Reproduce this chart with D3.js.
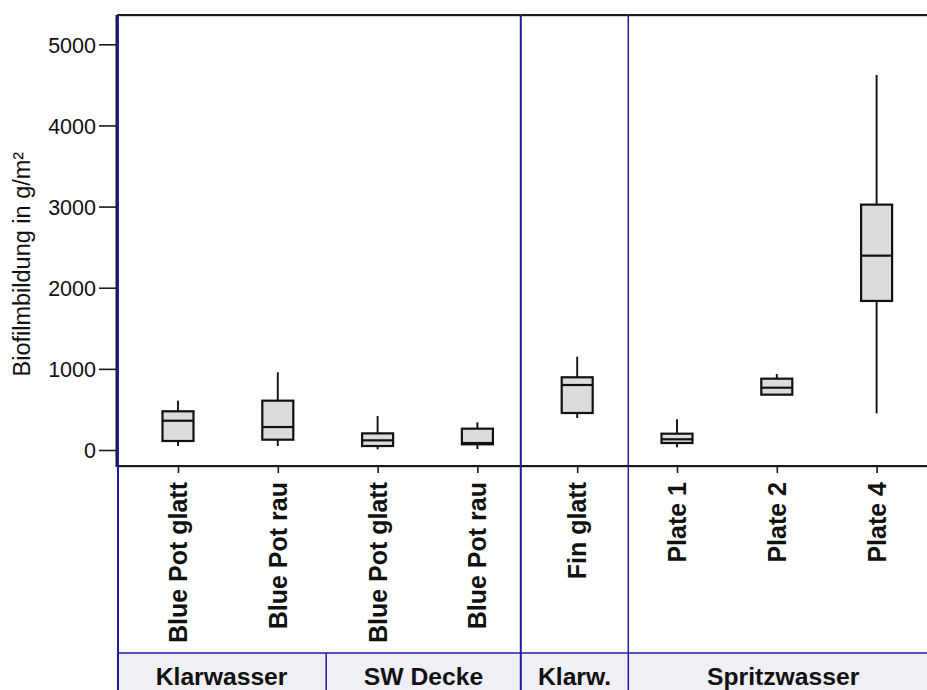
<!DOCTYPE html>
<html>
<head>
<meta charset="utf-8">
<script src="https://cdn.jsdelivr.net/npm/d3@7/dist/d3.min.js"></script>
<style>
  html, body { margin: 0; padding: 0; background: #fff; }
  svg { display: block; }
  text { font-family: "Liberation Sans", Arial, Helvetica, sans-serif; fill: #111; }
</style>
</head>
<body>
<svg id="chart" width="927" height="690"></svg>
<script>
// Sample names along the x axis, in drawing order
const categories = ["Blue Pot glatt", "Blue Pot rau", "Blue Pot glatt", "Blue Pot rau",
                    "Fin glatt", "Plate 1", "Plate 2", "Plate 4"];
// Water-exposure group for each sample
const groupIndex = [0, 0, 1, 1, 2, 3, 3, 3];
const groups = ["Klarwasser", "SW Decke", "Klarw.", "Spritzwasser"];

// Box plot statistics (g/m²)
const whiskerLow  = [49, 49, 8, 12, 394, 33, 682, 452];
const quartile1   = [111, 127, 49, 70, 456, 86, 682, 1837];
const median      = [361, 283, 119, 86, 801, 132, 768, 2395];
const quartile3   = [477, 608, 205, 263, 896, 201, 879, 3024];
const whiskerHigh = [608, 958, 419, 341, 1150, 378, 937, 4622];

const yTicks = [0, 1000, 2000, 3000, 4000, 5000];

const W = 927, H = 690;
const plot = { left: 117, right: 938, top: 15, bottom: 466 };
const rowTop = 653;           // top of the group-name row
const blue = "#1c1ca0";
const boxWidth = 31;

const svg = d3.select("#chart");

const keys = categories.map((c, i) => i);
const x = d3.scalePoint().domain(keys).range([178, 876.6]);
const y = d3.scaleLinear().domain([0, 5000]).range([450, 44.3]);
const step = x.step();

// group-name row background
svg.append("rect")
  .attr("x", plot.left).attr("y", rowTop)
  .attr("width", plot.right - plot.left).attr("height", H - rowTop)
  .attr("fill", "#efeff5");

// frame: top border and bottom axis line
svg.append("line").attr("x1", plot.left).attr("x2", plot.right)
  .attr("y1", plot.top + 1.6).attr("y2", plot.top + 1.6)
  .attr("stroke", "#cfcfcf").attr("stroke-width", 1);
svg.append("line").attr("x1", plot.left).attr("x2", plot.right)
  .attr("y1", plot.top).attr("y2", plot.top)
  .attr("stroke", "#1a1a1a").attr("stroke-width", 2);
svg.append("line").attr("x1", plot.left).attr("x2", plot.right)
  .attr("y1", plot.bottom + 1.6).attr("y2", plot.bottom + 1.6)
  .attr("stroke", "#cfcfcf").attr("stroke-width", 1);
svg.append("line").attr("x1", plot.left).attr("x2", plot.right)
  .attr("y1", plot.bottom).attr("y2", plot.bottom)
  .attr("stroke", "#1a1a1a").attr("stroke-width", 2);
svg.append("line").attr("x1", plot.left - 0.5).attr("x2", plot.left - 0.5)
  .attr("y1", plot.top).attr("y2", plot.bottom + 1)
  .attr("stroke", "#1a1a1a").attr("stroke-width", 2);

// y axis
const yAxis = svg.append("g")
  .attr("transform", `translate(${plot.left},0)`)
  .call(d3.axisLeft(y).tickValues(yTicks).tickSize(18).tickPadding(3).tickFormat(d3.format("d")));
yAxis.select(".domain").remove();
yAxis.selectAll(".tick line").attr("stroke", "#1a1a1a").attr("stroke-width", 1.6);
yAxis.selectAll(".tick text")
  .style("font-size", "21.5px").attr("fill", "#111").attr("dy", "0.36em");

svg.append("text")
  .attr("transform", `translate(29.5,${(y(0) + y(5000)) / 2 + 17}) rotate(-90)`)
  .attr("text-anchor", "middle")
  .style("font-size", "23.5px")
  .text("Biofilmbildung in g/m²");

// x axis ticks
const xAxis = svg.append("g")
  .attr("transform", `translate(0,${plot.bottom})`)
  .call(d3.axisBottom(x).tickSize(7).tickFormat(""));
xAxis.select(".domain").remove();
xAxis.selectAll(".tick line").attr("stroke", "#1a1a1a").attr("stroke-width", 1.6);

// rotated sample names
svg.append("g").selectAll("text")
  .data(keys)
  .join("text")
  .attr("transform", i => `translate(${x(i)},482) rotate(-90)`)
  .attr("text-anchor", "end")
  .attr("dy", "0.36em")
  .style("font-size", "25px").style("font-weight", "bold")
  .text(i => categories[i]);

// group boundaries between neighbouring samples
const edgeNudge = [-1.5, -6.5, 1.2];
const groupEdges = [plot.left];
for (let g = 0; g < groups.length - 1; g++) {
  const last = d3.max(keys.filter(i => groupIndex[i] === g));
  groupEdges.push(x(last) + step / 2 + edgeNudge[g]);
}
groupEdges.push(plot.right);

// group names
svg.append("g").selectAll("text")
  .data(groups)
  .join("text")
  .attr("x", (g, k) => (groupEdges[k] + groupEdges[k + 1]) / 2)
  .attr("y", 685)
  .attr("text-anchor", "middle")
  .style("font-size", "24.7px").style("font-weight", "bold")
  .text(g => g);

// boxes
const boxes = svg.append("g").selectAll("g")
  .data(keys)
  .join("g");

boxes.append("line")
  .attr("x1", i => x(i)).attr("x2", i => x(i))
  .attr("y1", i => y(whiskerHigh[i])).attr("y2", i => y(quartile3[i]))
  .attr("stroke", "#111").attr("stroke-width", 1.9);
boxes.append("line")
  .attr("x1", i => x(i)).attr("x2", i => x(i))
  .attr("y1", i => y(quartile1[i])).attr("y2", i => y(whiskerLow[i]))
  .attr("stroke", "#111").attr("stroke-width", 1.9);
boxes.append("rect")
  .attr("x", i => x(i) - boxWidth / 2)
  .attr("width", boxWidth)
  .attr("y", i => y(quartile3[i]))
  .attr("height", i => y(quartile1[i]) - y(quartile3[i]))
  .attr("fill", "#dcdcdc").attr("stroke", "#111").attr("stroke-width", 2.2);
boxes.append("line")
  .attr("x1", i => x(i) - boxWidth / 2).attr("x2", i => x(i) + boxWidth / 2)
  .attr("y1", i => y(median[i])).attr("y2", i => y(median[i]))
  .attr("stroke", "#111").attr("stroke-width", 2.2);

// blue group separators
const sep = svg.append("g").attr("stroke", blue);
sep.append("line").attr("x1", plot.left + 1).attr("x2", plot.left + 1)
  .attr("y1", plot.top - 1).attr("y2", H).attr("stroke-width", 2);
groupEdges.slice(1, -1).forEach((ex, k) => {
  // the boundary inside each water type only spans the group-name row
  const full = k !== 0;
  sep.append("line")
    .attr("x1", ex).attr("x2", ex)
    .attr("y1", full ? plot.top - 1 : rowTop).attr("y2", H)
    .attr("stroke-width", k === 1 ? 2 : 1.5);
});
sep.append("line").attr("x1", plot.left).attr("x2", plot.right)
  .attr("y1", rowTop).attr("y2", rowTop).attr("stroke-width", 1.5);
</script>
</body>
</html>
